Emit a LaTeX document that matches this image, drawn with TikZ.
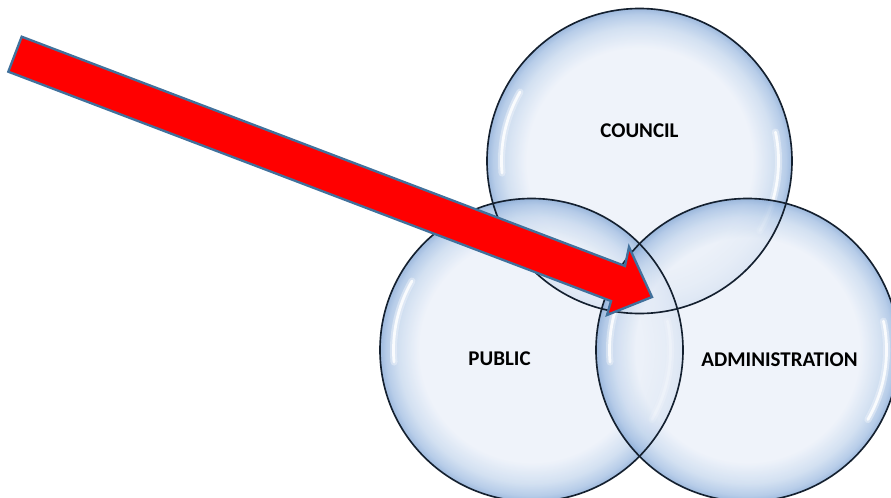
\documentclass[tikz,border=0pt]{standalone}
\usepackage{fontspec}
\setmainfont{Carlito}
\usetikzlibrary{calc}
\definecolor{bin}{HTML}{EBF0F9}
\definecolor{bmid}{HTML}{C8D9EE}
\definecolor{bmid2}{HTML}{A5C0E3}
\definecolor{bedge}{HTML}{86A8D5}
\definecolor{bline}{HTML}{14202F}
\definecolor{arrline}{HTML}{41719C}
\pgfdeclareradialshading{bubble}{\pgfpoint{0bp}{0bp}}{color(0bp)=(bin); color(18.5bp)=(bin); color(22bp)=(bmid); color(24bp)=(bmid2); color(25bp)=(bedge); color(50bp)=(bedge)}
\tikzset{
  bubblenode/.style={circle, inner sep=0pt, minimum size=9.09cm, shading=bubble, fill opacity=0.8},
  rim/.style={draw=bline, line width=1.4pt},
  hl/.style={white, line width=2.4pt, line cap=round, opacity=0.85},
  hlsoft/.style={white, line width=6pt, line cap=round, opacity=0.35},
  lbl/.style={font=\bfseries\fontsize{17.9}{20}\selectfont, text=black, inner sep=0pt},
  redarrow/.style={fill=red, draw=arrline, line width=2pt, line join=miter}
}
\newcommand{\bubblehl}[1]{%
  \draw[hlsoft] ($(#1.center)+(-185:138)$) arc[start angle=-185, end angle=-150, radius=138];
  \draw[hl] ($(#1.center)+(-185:138)$) arc[start angle=-185, end angle=-150, radius=138];
  \draw[hlsoft] ($(#1.center)+(30:139)$) arc[start angle=30, end angle=-12, radius=139];
  \draw[hl] ($(#1.center)+(30:139)$) arc[start angle=30, end angle=-12, radius=139];
}
\begin{document}
\begin{tikzpicture}[x=0.03cm, y=-0.03cm]
\useasboundingbox (0,0) rectangle (891,497);
\clip (0,0) rectangle (891,497);
\node[bubblenode, minimum size=9.15cm] (council) at (639.5,161) {};
\bubblehl{council}
\node[bubblenode] (public) at (531.5,350) {};
\bubblehl{public}
\node[bubblenode] (admin) at (747.5,350) {};
\bubblehl{admin}
\draw[rim] (council.center) circle[radius=152.5];
\draw[rim] (public.center) circle[radius=151.5];
\draw[rim] (admin.center) circle[radius=151.5];
\node[lbl] (tcouncil) at (639.5,131) {COUNCIL};
\node[lbl] (tpublic) at (499.5,359) {PUBLIC};
\node[lbl] (tadmin) at (779.5,359.5) {ADMINISTRATION};
\coordinate (t1) at (21.7,36.7);
\coordinate (s1) at (625,266);
\coordinate (h1) at (629,247);
\coordinate (tip) at (652,297);
\coordinate (h2) at (607,315);
\coordinate (s2) at (611,301);
\coordinate (t2) at (8.3,71.7);
\draw[redarrow] (t1) -- (s1) -- (h1) -- (tip) -- (h2) -- (s2) -- (t2) -- cycle;
\end{tikzpicture}
\end{document}
